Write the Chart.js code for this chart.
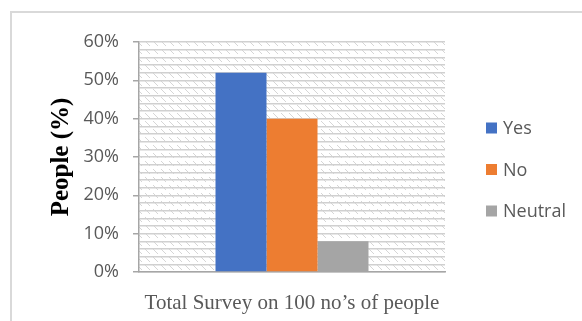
<!DOCTYPE html>
<html>
<head>
<meta charset="utf-8">
<script src="https://cdn.jsdelivr.net/npm/chart.js@4"></script>
<style>
  html, body { margin: 0; padding: 0; background: #fff; }
  #frame {
    position: absolute; left: 10px; top: 11px; width: 700px; height: 400px;
    border-left: 2px solid #d9d9d9; border-top: 2px solid #d9d9d9;
  }
  #surveyChart { position: absolute; left: 0; top: 0; }
</style>
</head>
<body>
<div id="frame"></div>
<canvas id="surveyChart" width="582" height="321"></canvas>
<script>
// Data
const categories = [''];
const seriesNames = ['Yes', 'No', 'Neutral'];
const seriesValues = [52, 40, 8];
const yTickLabels = ['0%', '10%', '20%', '30%', '40%', '50%', '60%'];

const seriesColors = ['#4472C4', '#ED7D31', '#A5A5A5'];
const axisColor = '#a6a6a6';
const textColor = '#595959';

// Hatched background behind the plot area
const hatchPlugin = {
    id: 'hatch',
    beforeDraw(chart) {
        const { ctx, chartArea: a } = chart;
        const tile = document.createElement('canvas');
        tile.width = 8;
        tile.height = 8;
        const t = tile.getContext('2d');
        t.strokeStyle = '#d6d6d6';
        t.lineWidth = 1;
        t.beginPath();
        t.moveTo(1, 1);
        t.lineTo(6, 6);
        t.stroke();
        ctx.save();
        ctx.fillStyle = ctx.createPattern(tile, 'repeat');
        ctx.fillRect(a.left, a.top, a.right - a.left, a.bottom - a.top);
        ctx.restore();
    }
};

// Legend on the right side
const sideLegend = {
    id: 'sideLegend',
    afterDraw(chart) {
        const ctx = chart.ctx;
        ctx.save();
        ctx.font = '18px "Open Sans"';
        ctx.textBaseline = 'middle';
        chart.data.datasets.forEach((ds, i) => {
            const y = 128 + i * 41.5;
            ctx.fillStyle = ds.backgroundColor;
            ctx.fillRect(486, y - 5.5, 11, 11);
            ctx.fillStyle = textColor;
            ctx.fillText(ds.label, 503, y + 1);
        });
        ctx.restore();
    }
};

const ctx = document.getElementById('surveyChart').getContext('2d');
const surveyChart = new Chart(ctx, {
    type: 'bar',
    data: {
        labels: categories,
        datasets: seriesNames.map((name, i) => ({
            label: name,
            data: [seriesValues[i]],
            backgroundColor: seriesColors[i],
            borderWidth: 0,
            categoryPercentage: 0.5,
            barPercentage: 1.0,
        })),
    },
    options: {
        responsive: false,
        animation: false,
        layout: { padding: { left: 40, top: 42, right: 137, bottom: 0 } },
        plugins: {
            legend: { display: false },
            tooltip: { enabled: false },
        },
        scales: {
            x: {
                grid: { display: false },
                border: { color: axisColor, width: 1.5 },
                ticks: { display: false },
                title: {
                    display: true,
                    text: 'Total Survey on 100 no’s of people',
                    color: textColor,
                    font: { family: '"Liberation Serif", "Times New Roman", serif', size: 21 },
                    padding: { top: 0, bottom: 5 },
                },
                afterFit(scale) { scale.height = 49; },
            },
            y: {
                min: 0,
                max: 60,
                ticks: {
                    stepSize: 2,
                    maxTicksLimit: 40,
                    autoSkip: false,
                    padding: 14,
                    color: textColor,
                    font: { family: '"Open Sans"', size: 18 },
                    callback: (v) => (v % 10 === 0 ? yTickLabels[v / 10] : ''),
                },
                grid: {
                    color: '#d0d0d0',
                    lineWidth: 1.5,
                    tickLength: 6,
                    tickColor: (c) => (c.tick && c.tick.value % 10 === 0 ? axisColor : 'rgba(0,0,0,0)'),
                },
                border: { color: axisColor, width: 1.5 },
                title: {
                    display: true,
                    text: 'People (%)',
                    color: '#000',
                    font: { family: '"Liberation Serif", "Times New Roman", serif', size: 25, weight: 'bold' },
                    padding: { top: 7, bottom: 0 },
                },
                afterFit(scale) { scale.width = 99; },
            },
        },
    },
    plugins: [hatchPlugin, sideLegend],
});
</script>
</body>
</html>
